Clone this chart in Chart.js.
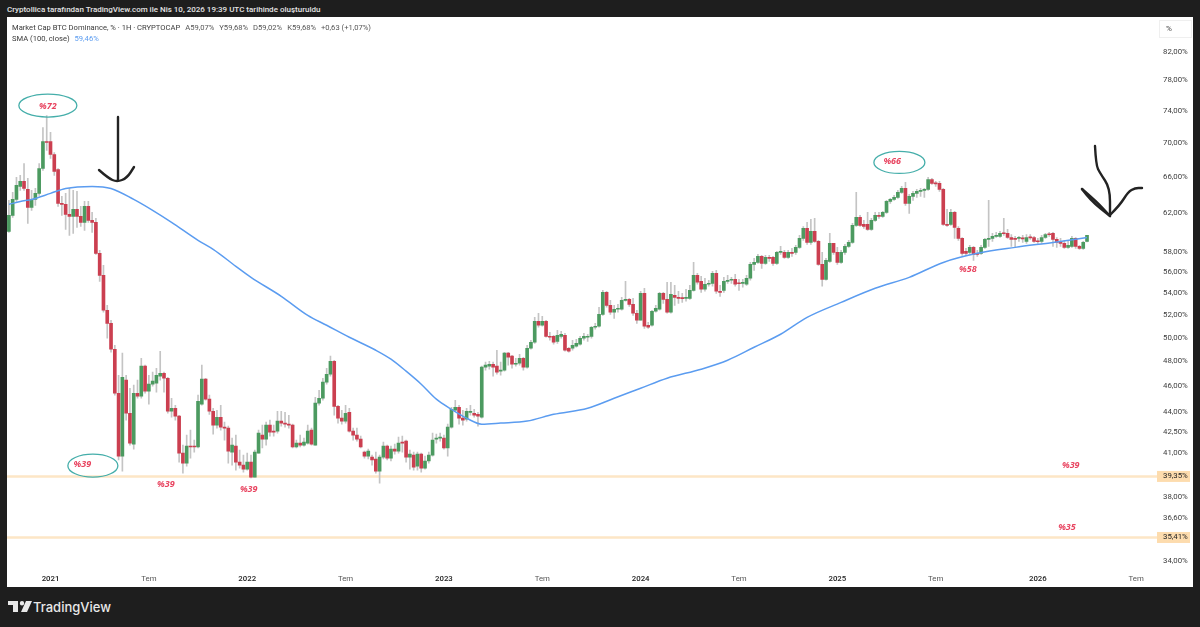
<!DOCTYPE html>
<html>
<head>
<meta charset="utf-8">
<script src="https://cdn.jsdelivr.net/npm/chart.js@4"></script>
<style>
html, body { margin:0; padding:0; background:#1e1e1e; }
#wrap { position:relative; width:1200px; height:627px; overflow:hidden; background:#1e1e1e; font-family:Roboto,sans-serif; }
#panel { position:absolute; left:7px; top:17px; width:1186px; height:570px; background:#fff; }
canvas { position:absolute; left:7px; top:17px; }
.txt { position:absolute; white-space:nowrap; }
#made { left:7px; top:3px; font-size:8px; font-weight:500; color:#e4e4e4; line-height:13px; }
.leg { left:12px; font-size:7.6px; color:#3a3a3a; line-height:11px; }
.leg span { margin-left:5px; color:#555; }
#unit { left:1159px; top:20px; width:31px; height:16px; border:1px solid #efefef; font-size:8px; color:#444; line-height:16px; text-indent:6px; }
#brand { left:33px; top:597px; font-family:"Inter",sans-serif; font-size:13px; font-weight:500; color:#e8e8e8; line-height:20px; }
#logo { position:absolute; left:8px; top:601px; }
</style>
</head>
<body>
<div id="wrap">
  <div id="panel"></div>
  <canvas id="chart" width="1186" height="570"></canvas>
  <div class="txt" id="made">Cryptollica tarafından TradingView.com ile Nis 10, 2026 19:39 UTC tarihinde oluşturuldu</div>
  <div class="txt leg" style="top:22px">Market Cap BTC Dominance, % · 1H · CRYPTOCAP<span>A59,07%</span><span>Y59,68%</span><span>D59,02%</span><span>K59,68%</span><span>+0,63 (+1,07%)</span></div>
  <div class="txt leg" style="top:33px">SMA (100, close)<span style="color:#5b9cf0">59,46%</span></div>
  <div class="txt" id="unit">%</div>
  <svg id="logo" width="24" height="12" viewBox="0 0 24 12"><path d="M0 0h10v11H5V4H0z M14 0a2.2 2.2 0 1 1 0 4.400a2.200 2.200 0 0 1 0-4.400z M18 0h6l-5 11h-6z" fill="#e8e8e8"/></svg>
  <div class="txt" id="brand">TradingView</div>
</div>
<script>
// weekly candles
var opens = [60.10,61.78,63.51,64.96,65.52,64.62,62.64,63.51,64.18,67.0,
70.2,70.2,68.64,66.88,63.07,62.97,61.89,61.68,62.43,61.68,
61.04,62.75,61.25,61.04,57.86,55.70,52.44,51.27,49.02,45.43,
40.76,46.47,43.89,41.61,45.43,45.20,47.61,45.59,46.15,46.23,
46.79,47.03,46.63,44.04,44.27,43.67,40.97,40.27,41.47,41.47,
41.40,44.58,46.55,44.97,44.04,43.0,43.59,42.85,42.78,41.04,
41.47,40.34,40.13,39.85,40.34,39.30,40.97,42.26,41.97,43.0,
42.56,42.56,43.30,43.15,43.07,43.0,41.40,41.68,41.54,41.68,
42.63,41.54,44.66,45.04,46.31,46.95,48.02,44.42,43.52,43.30,
43.96,42.56,42.26,41.97,41.04,40.76,40.69,40.55,39.71,40.69,
41.47,40.62,41.25,41.11,41.76,41.83,40.69,40.83,40.06,40.90,
39.92,40.41,40.83,41.97,42.04,42.04,41.33,42.85,44.12,44.35,
43.52,43.44,43.96,43.89,43.81,43.59,47.53,47.61,47.77,47.61,
47.20,47.28,48.69,48.44,47.77,47.85,48.27,47.53,49.11,49.62,
51.45,51.10,51.45,50.13,50.13,49.70,50.13,50.22,49.11,49.11,
49.28,49.45,49.96,50.05,50.13,50.92,51.01,52.07,54.09,52.89,
52.26,52.53,52.53,53.35,53.44,52.98,52.17,51.54,54.0,51.10,
51.10,52.35,52.53,54.0,53.44,52.26,53.81,53.62,53.53,53.53,
53.53,54.28,55.70,55.13,54.38,54.85,54.94,55.90,54.19,54.28,
55.13,55.23,55.32,54.94,54.94,54.85,55.42,56.77,56.96,57.56,
56.86,57.46,57.46,56.86,57.96,57.96,57.46,57.96,57.96,58.46,
59.37,60.41,58.96,60.10,59.07,56.77,55.32,57.06,58.86,57.96,
56.96,57.96,58.56,58.96,60.72,61.57,60.83,60.83,60.30,61.25,
61.78,61.68,62.10,63.29,63.51,63.73,64.29,64.73,63.07,63.84,
64.18,64.40,64.51,64.62,65.74,65.29,65.29,64.62,60.83,60.83,
62.10,60.41,59.37,58.06,57.96,58.46,57.86,57.86,58.46,59.27,
59.37,59.58,59.58,59.89,59.89,59.47,59.37,59.37,59.37,59.07,
59.47,59.47,59.07,59.07,59.47,59.78,59.89,59.27,59.07,58.86,
58.46,58.56,59.37,58.56,58.36,59.07]

var closes = [61.78,63.51,65.07,65.52,64.73,62.64,63.51,64.18,67.0,70.2,
70.08,68.64,66.66,63.07,62.97,61.89,61.68,62.43,61.68,61.04,
62.75,61.25,61.04,57.86,55.70,52.44,51.27,49.02,45.43,40.76,
46.71,43.89,41.68,45.43,45.20,47.61,45.59,46.15,46.39,46.87,
47.03,46.63,44.04,44.27,43.67,40.97,40.27,41.47,41.40,41.40,
44.81,46.55,44.97,44.04,43.0,43.59,42.85,42.78,41.11,41.54,
40.34,40.13,39.85,40.34,39.30,41.04,42.41,41.97,43.0,42.48,
42.48,43.30,43.15,43.07,43.0,41.40,41.68,41.54,41.76,42.56,
41.61,44.66,45.04,46.31,46.95,48.02,44.42,43.52,43.30,43.89,
42.56,42.26,41.97,41.40,40.76,41.11,40.48,39.71,40.69,41.47,
40.62,41.25,41.11,41.68,41.68,40.69,40.90,39.99,40.90,39.92,
40.41,40.83,41.90,42.04,42.12,41.33,42.85,44.19,44.35,43.52,
43.37,44.04,44.04,43.74,43.67,47.53,47.69,47.77,47.53,47.12,
47.28,48.69,48.35,47.77,47.85,48.27,47.53,49.11,49.62,51.45,
51.10,51.45,50.13,50.05,49.62,50.22,50.31,48.94,48.85,49.36,
49.53,49.96,50.13,50.13,50.92,51.01,52.07,54.09,52.89,52.26,
52.53,52.62,53.35,53.44,52.98,52.17,51.54,54.0,51.01,50.92,
52.35,52.62,54.0,53.44,52.26,53.90,53.62,53.53,53.50,53.56,
54.28,55.70,55.04,54.38,54.85,54.94,55.90,54.19,54.09,55.13,
55.23,55.26,54.85,54.90,54.97,55.42,56.77,56.96,57.56,56.86,
57.46,57.36,56.86,57.96,58.0,57.46,57.96,57.86,58.46,59.37,
60.41,58.96,60.10,59.07,56.77,55.32,57.16,58.86,57.96,56.96,
57.96,58.56,58.96,60.72,61.57,60.72,60.61,60.30,61.25,61.78,
61.68,62.10,63.29,63.51,63.73,64.29,64.73,63.07,63.84,64.18,
64.40,64.51,64.62,65.74,65.29,65.25,64.62,60.83,60.72,62.10,
60.51,59.37,57.86,57.86,58.46,57.76,57.76,58.46,59.27,59.37,
59.58,59.68,59.89,59.85,59.47,59.27,59.27,59.40,59.33,59.47,
59.43,59.07,59.03,59.47,59.78,59.75,59.27,58.96,58.86,58.46,
58.66,59.37,58.56,58.36,58.96,59.68]

var highs = [63.40,64.29,65.97,66.20,67.58,65.86,64.51,64.73,67.58,71.92,
73.42,71.31,68.88,67.0,63.84,64.18,64.73,64.51,64.40,62.75,
63.29,63.29,62.10,61.46,58.16,56.67,52.89,51.54,49.36,46.87,
48.69,46.87,45.83,46.07,46.47,48.27,47.69,46.87,47.12,47.44,
48.85,47.12,46.71,45.04,44.50,43.74,41.54,42.26,42.63,41.90,
45.28,47.69,46.63,45.28,44.27,44.12,44.50,43.22,42.92,42.04,
42.26,41.18,40.83,40.97,40.83,41.18,42.63,43.0,43.22,43.37,
43.0,44.04,44.04,43.96,43.74,43.07,41.90,42.26,42.04,43.0,
42.78,45.12,45.67,46.63,47.44,48.44,48.10,44.50,44.12,44.50,
44.27,42.78,42.78,42.19,41.11,41.25,40.83,41.04,40.83,41.76,
41.54,41.47,41.61,42.12,42.19,41.90,41.18,41.04,41.04,40.97,
40.76,41.04,42.41,42.33,42.41,42.26,43.07,44.35,44.89,44.50,
44.12,44.27,44.50,44.19,43.96,47.61,47.94,48.02,47.94,48.94,
47.94,48.77,48.77,48.52,48.27,48.60,48.35,49.36,49.79,51.80,
52.17,51.89,51.54,50.48,50.22,50.66,50.57,50.40,49.19,49.79,
49.88,50.13,50.40,50.31,51.01,51.27,52.71,54.28,54.19,53.35,
52.89,52.98,53.62,55.13,53.53,53.53,52.44,54.19,54.47,51.36,
52.44,52.89,54.09,54.09,55.04,55.04,54.75,54.19,54.0,54.38,
54.75,56.96,55.90,55.61,55.42,55.23,56.09,56.19,54.75,55.51,
55.70,55.51,55.80,55.32,55.32,55.70,56.96,57.36,57.76,57.66,
57.66,57.66,57.56,58.06,58.56,58.16,58.16,58.36,58.66,59.68,
60.61,61.04,61.36,61.46,59.17,57.96,57.36,59.89,58.86,58.46,
58.16,58.76,59.17,60.93,64.29,61.78,61.25,62.10,61.46,62.10,
62.10,62.21,63.40,63.62,63.95,64.51,64.96,65.41,64.07,64.40,
64.62,64.73,64.73,65.97,65.86,65.52,65.52,64.73,62.43,62.43,
62.21,60.61,59.47,58.36,58.66,58.56,58.16,58.66,59.37,63.40,
59.89,60.0,60.10,61.46,60.30,59.78,59.58,59.58,59.68,59.78,
59.78,59.58,59.37,59.68,59.89,60.0,60.0,59.47,59.37,59.17,
59.07,59.58,59.47,58.66,59.07,59.68]

var lows = [60.0,61.57,63.29,64.51,64.51,60.93,62.32,62.86,63.95,66.77,
69.12,68.17,66.20,62.75,61.78,60.30,59.68,59.89,60.51,60.61,
60.20,61.04,60.0,57.76,55.13,52.26,49.96,48.77,45.28,40.48,
39.71,43.37,41.54,41.25,45.04,45.04,45.43,44.58,45.99,45.51,
46.47,45.51,43.89,43.59,43.37,40.34,39.58,40.06,40.62,41.04,
41.33,44.50,44.89,43.81,42.33,42.78,42.63,41.90,40.27,40.13,
39.78,39.92,39.64,39.78,39.24,39.30,40.97,41.33,41.54,42.19,
42.19,42.41,42.92,42.85,42.78,41.33,41.33,41.40,41.47,41.61,
41.54,41.54,44.50,44.89,46.15,46.79,43.74,43.15,43.07,43.15,
42.48,41.90,41.83,41.33,40.62,40.55,40.13,39.58,38.90,40.55,
40.48,40.41,40.90,40.97,41.04,40.34,39.85,39.78,39.78,39.64,
39.85,40.27,40.76,41.68,41.83,41.25,40.76,42.78,44.04,43.07,
43.0,43.30,43.74,43.59,42.92,43.52,47.28,47.36,46.79,46.95,
46.87,47.20,47.69,47.44,47.61,47.69,47.28,47.44,49.02,49.53,
50.92,51.01,50.05,49.79,49.45,49.53,49.96,48.85,48.77,48.94,
49.19,49.36,49.79,49.70,49.96,50.75,50.92,51.98,52.71,52.07,
51.71,52.26,52.44,53.26,52.80,51.98,51.27,51.54,50.83,50.83,
51.01,52.26,52.44,53.07,52.17,52.17,52.89,53.07,53.16,53.26,
53.44,54.19,54.85,54.09,54.19,54.66,54.66,54.0,53.72,54.09,
54.94,54.94,54.66,54.28,54.57,54.75,55.23,56.19,56.86,56.38,
56.77,57.06,56.67,56.77,57.76,57.36,57.36,57.56,57.76,58.36,
59.17,58.76,58.76,58.96,56.67,54.66,55.23,56.96,57.76,56.77,
56.86,57.76,58.46,58.86,60.61,60.61,60.41,60.20,60.20,61.14,
61.46,61.57,61.99,63.07,63.40,63.62,64.18,62.86,61.99,63.40,
63.73,63.84,63.73,64.51,65.18,64.96,64.40,60.72,60.61,60.72,
59.37,59.17,57.66,57.66,57.76,57.16,57.56,57.76,58.36,58.56,
59.07,59.47,59.47,59.68,59.37,58.56,58.46,59.07,58.96,58.86,
59.27,58.96,58.86,58.86,59.37,59.58,58.56,58.46,58.56,58.36,
58.36,58.46,58.36,58.26,58.26,59.02]

// SMA 100, read at these candle positions
var smaWeeks = [0,3,6,11,15,22,27,33,38,43,50,54,60,64,72,79,84,90,97,101,105,109,113,117,121,125,130,137,144,153,160,167,174,183,190,197,204,211,220,229,238,247,256,266,276,285]
var smaValues = [62.97,63.29,63.51,64.18,64.73,64.96,64.73,63.51,62.32,61.04,59.17,58.26,56.58,55.51,53.72,51.98,51.10,50.05,48.94,48.19,47.20,46.15,44.97,44.19,43.52,43.07,43.15,43.30,43.81,44.27,45.04,45.83,46.63,47.36,48.10,49.19,50.31,51.80,53.16,54.47,55.51,56.96,57.86,58.46,58.96,59.46]

var priceTicks = [82,78,74,70,66,62,58,56,54,52,50,48,46,44,42.5,41,38,36.6,34]
var levels = [39.35, 35.41]

var timeTicks = [11,37,63,89,115,141,167,193,219,245,272,298]
var timeLabels = ['2021','Tem','2022','Tem','2023','Tem','2024','Tem','2025','Tem','2026','Tem']

var totalWeeks = 304
var labels = []
var smaLine = []
for (var n = 0; n < totalWeeks; n++) {
  labels.push(String(n))
  smaLine.push(null)
}
smaWeeks.forEach((w, k) => { smaLine[w] = smaValues[k] })

var bodies = opens.map((o, k) => [o, closes[k]])
var wicks = lows.map((l, k) => [l, highs[k]])
var upColor = '#4c9a60'
var downColor = '#cb3f50'
var bodyColors = opens.map((o, k) => closes[k] >= o ? upColor : downColor)

var fmt = v => v.toFixed(2).replace('.', ',') + '%'

// notes the author put on the chart: [candle, price, text]
var notes = [[10.3,74.57,'%72'],[19.4,40.2,'%39'],[41.5,38.84,'%39'],[63.4,38.46,'%39'],[233.5,67.82,'%66'],[253.5,56.29,'%58'],[280.7,40.13,'%39'],[279.7,36.06,'%35']]
// teal rings: [candle, price, rx, ry]
var rings = [[10.3,74.7,29,11.5],[22.2,40.09,25,11.5],[235.4,67.7,25.5,11]]

var strokes = [
  [[118,117],[118,180]],
  [[99,170],[108,178],[117,182],[127,178],[134,167]],
  [[1095,146],[1096,165],[1100,173],[1110,188],[1110,215]],
  [[1082,189],[1097,202],[1110,216]],
  [[1082,189],[1090,200],[1110,216]],
  [[1110,215],[1120,205],[1128,192],[1135,188],[1142,188]]
]

var overlay = {
  id: 'overlay',
  beforeDatasetsDraw(chart) {
    var c = chart.ctx, y = chart.scales.y, a = chart.chartArea
    c.save()
    c.strokeStyle = '#fde6c6'
    c.lineWidth = 2.5
    levels.forEach(v => {
      c.beginPath()
      c.moveTo(a.left, y.getPixelForValue(v))
      c.lineTo(a.right, y.getPixelForValue(v))
      c.stroke()
    })
    c.restore()
  },
  afterDraw(chart) {
    var c = chart.ctx, x = chart.scales.x, y = chart.scales.y, a = chart.chartArea
    c.save()
    levels.forEach(v => {
      var p = y.getPixelForValue(v)
      c.fillStyle = '#fddcae'
      c.fillRect(a.right, p - 5.5, 33, 11)
      c.fillStyle = '#222'
      c.font = '7.8px Roboto'
      c.textBaseline = 'middle'
      c.fillText(fmt(v), a.right + 6, p)
    })
    c.strokeStyle = '#45aeaa'
    c.lineWidth = 1.3
    rings.forEach(r => {
      c.beginPath()
      c.ellipse(x.getPixelForValue(r[0]), y.getPixelForValue(r[1]), r[2], r[3], 0, 0, Math.PI * 2)
      c.stroke()
    })
    c.fillStyle = '#e8435f'
    c.font = 'italic bold 9px "Open Sans"'
    c.textAlign = 'center'
    c.textBaseline = 'middle'
    notes.forEach(t => {
      c.fillText(t[2], x.getPixelForValue(t[0]), y.getPixelForValue(t[1]))
    })
    // hand drawn arrows, page pixels minus the canvas offset
    c.strokeStyle = '#232323'
    c.lineWidth = 2.4
    c.lineCap = 'round'
    c.lineJoin = 'round'
    strokes.forEach(s => {
      c.beginPath()
      c.moveTo(s[0][0] - 7, s[0][1] - 17)
      for (var k = 1; k < s.length - 1; k++) {
        var mx = (s[k][0] + s[k + 1][0]) / 2, my = (s[k][1] + s[k + 1][1]) / 2
        c.quadraticCurveTo(s[k][0] - 7, s[k][1] - 17, mx - 7, my - 17)
      }
      c.lineTo(s[s.length - 1][0] - 7, s[s.length - 1][1] - 17)
      c.stroke()
    })
    c.restore()
  }
}

new Chart(document.getElementById('chart'), {
  type: 'bar',
  plugins: [overlay],
  data: {
    labels: labels,
    datasets: [
      { type: 'line', label: 'SMA (100, close)', data: smaLine, spanGaps: true, borderColor: '#5b9cf0', borderWidth: 1.5, pointRadius: 0, cubicInterpolationMode: 'monotone', order: 0 },
      { label: 'Body', data: bodies, backgroundColor: bodyColors, barThickness: 3, grouped: false, minBarLength: 1, order: 1 },
      { label: 'Wick', data: wicks, backgroundColor: '#c4c4c4', barThickness: 1, grouped: false, order: 2 }
    ]
  },
  options: {
    responsive: false,
    animation: false,
    layout: { padding: 0 },
    plugins: { legend: { display: false }, tooltip: { enabled: false } },
    scales: {
      x: {
        grid: { display: false, drawTicks: false },
        border: { display: false },
        afterBuildTicks(s) { s.ticks = timeTicks.map(v => ({ value: v })) },
        afterFit(s) { s.height = 19 },
        ticks: {
          autoSkip: false,
          maxRotation: 0,
          padding: 6,
          callback: v => timeLabels[timeTicks.indexOf(v)],
          color: ctx => ctx.index % 2 == 0 ? '#222' : '#555',
          font: ctx => ({ family: 'Roboto', size: 7.8, weight: ctx.index % 2 == 0 ? '500' : '400' })
        }
      },
      y: {
        type: 'logarithmic',
        position: 'right',
        bounds: 'data',
        min: 33.59,
        max: 85.46,
        grid: { display: false, drawTicks: false },
        border: { display: false },
        afterBuildTicks(s) { s.ticks = priceTicks.map(v => ({ value: v })) },
        afterFit(s) { s.width = 36 },
        ticks: {
          autoSkip: false,
          padding: 6,
          color: '#3c3c3c',
          font: { family: 'Roboto', size: 7.8 },
          callback: v => fmt(v)
        }
      }
    }
  }
})
</script>
</body>
</html>
